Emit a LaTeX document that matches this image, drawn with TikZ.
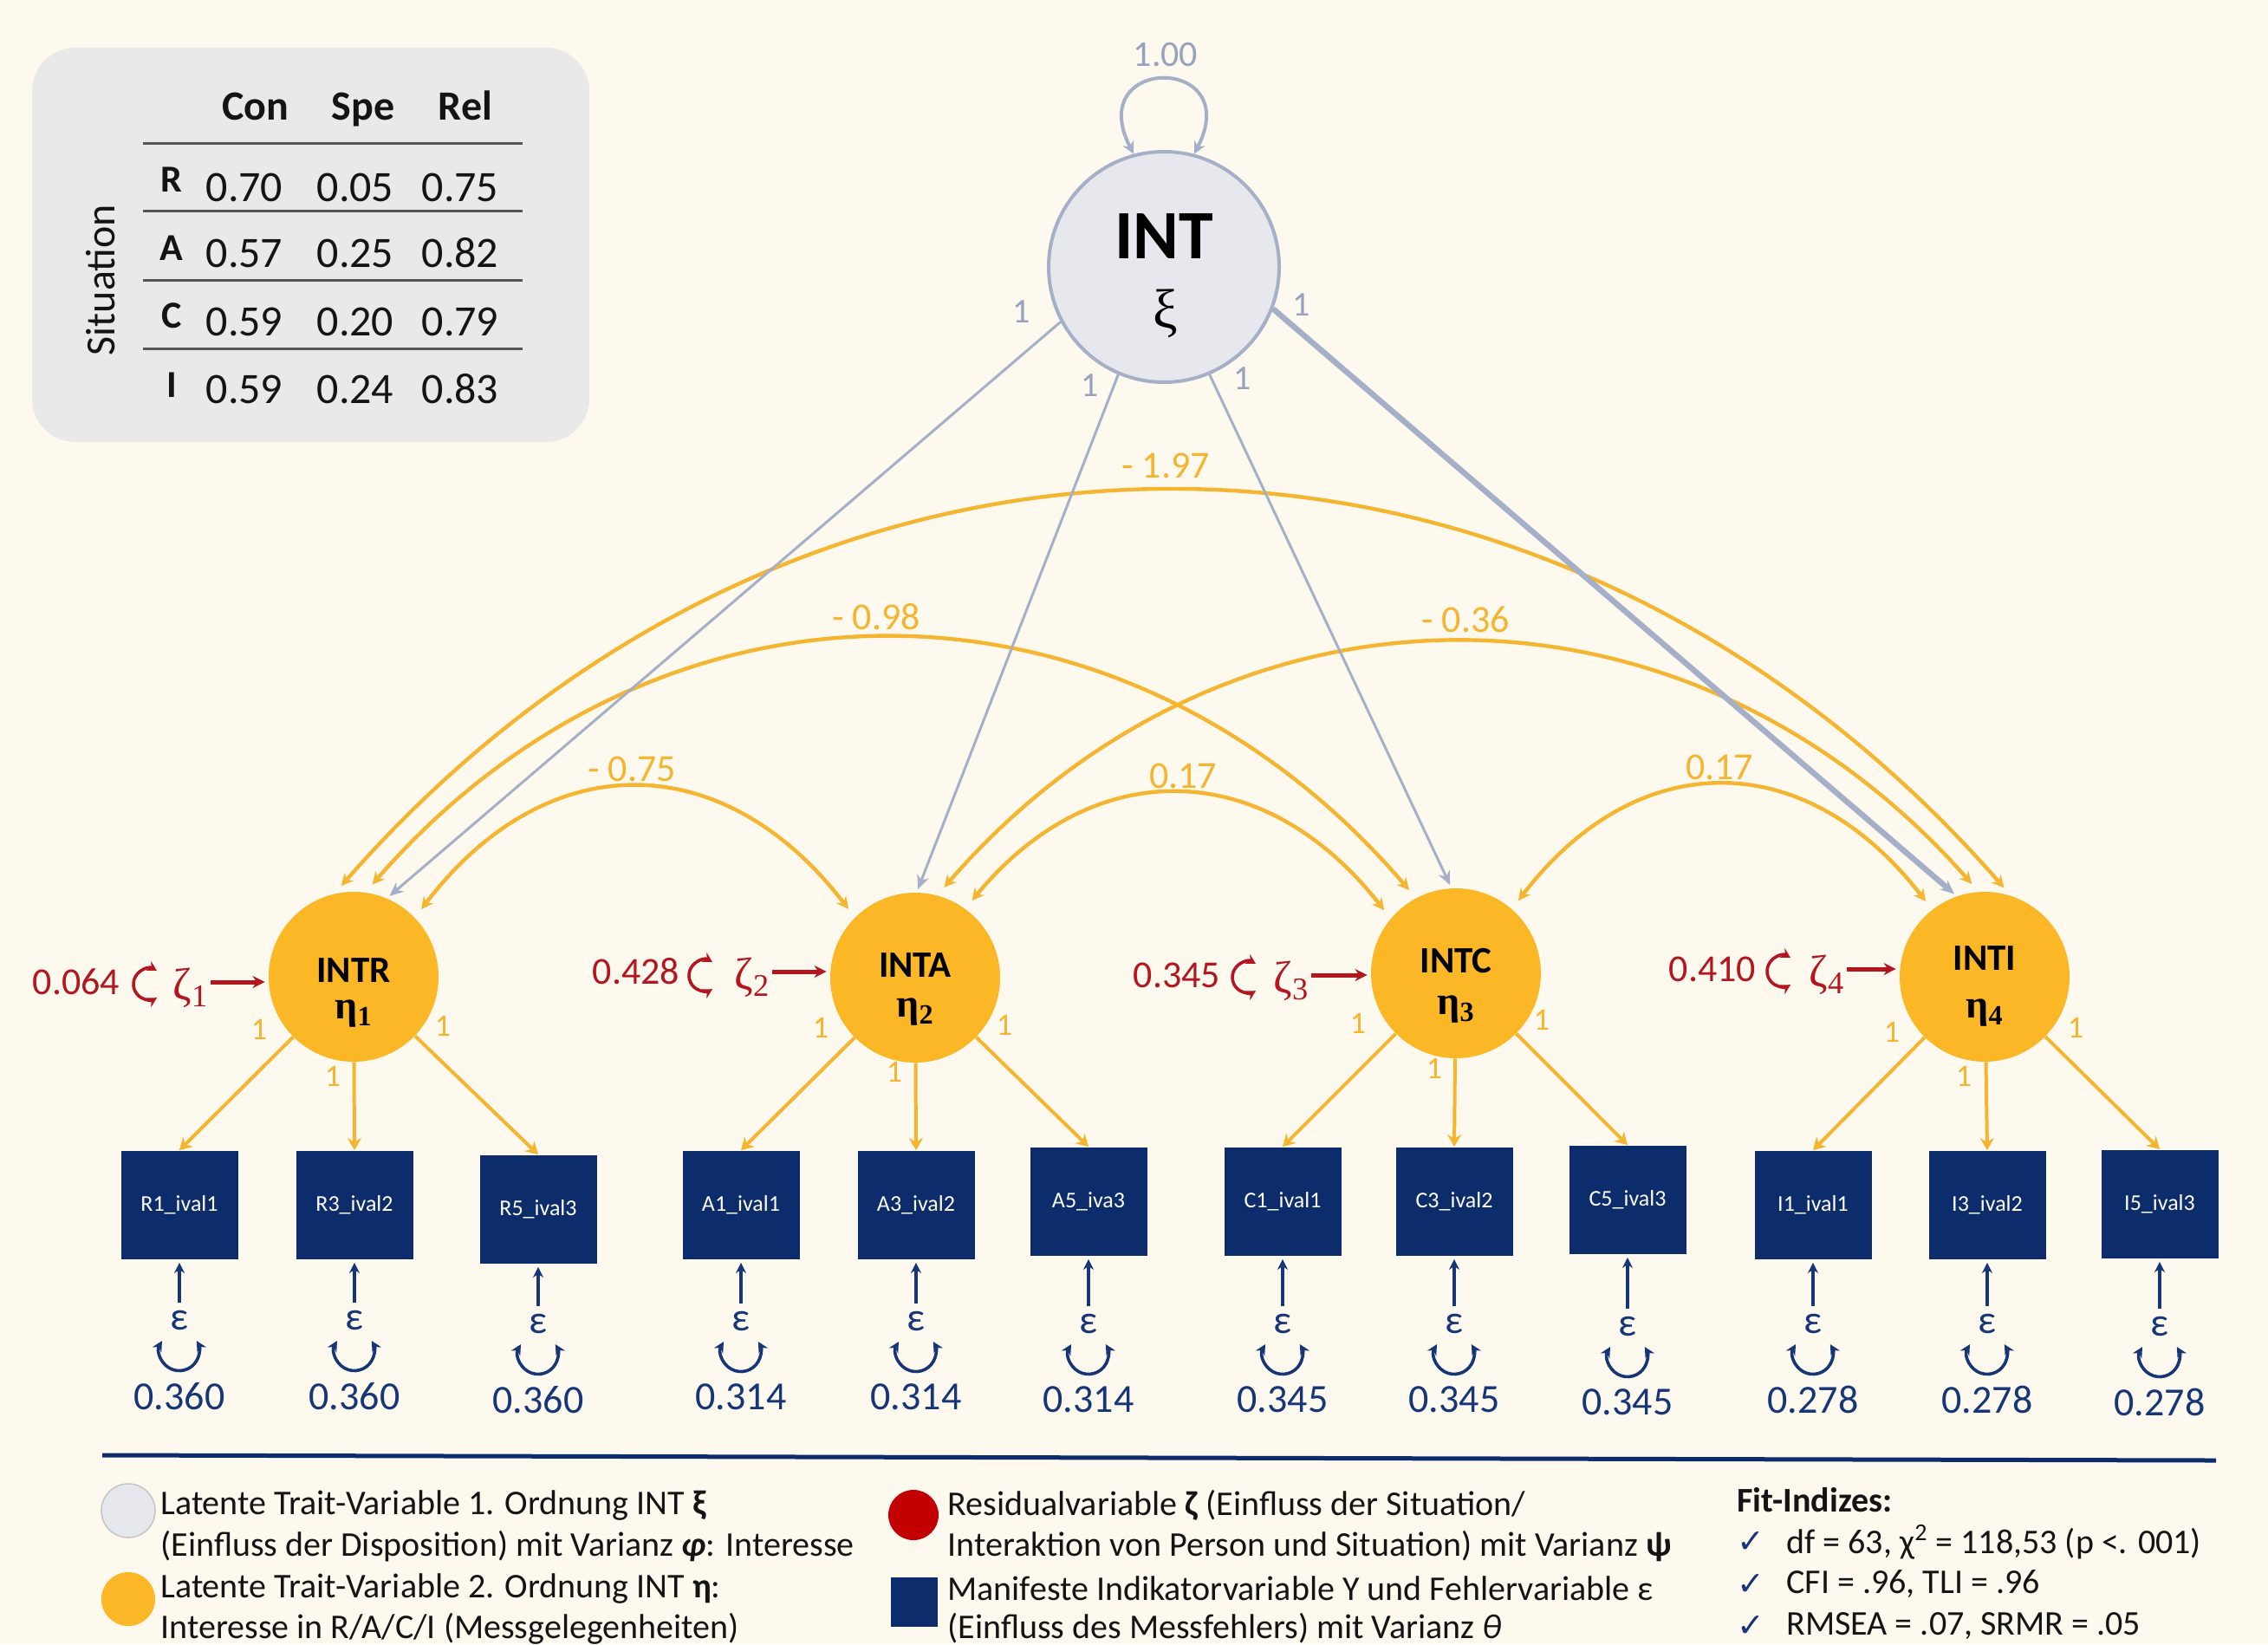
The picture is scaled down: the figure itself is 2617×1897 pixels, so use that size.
\documentclass[tikz,border=0pt]{standalone}
\usepackage{fontspec}
\setmainfont{Carlito}
\newfontfamily\grserif{Liberation Serif}
\newfontfamily\symfont{DejaVu Sans}
\usetikzlibrary{arrows.meta}
\definecolor{bgc}{RGB}{253,249,239}
\definecolor{tabfill}{RGB}{233,233,233}
\definecolor{rulec}{RGB}{85,85,85}
\definecolor{txt}{RGB}{20,20,20}
\definecolor{gblue}{RGB}{165,176,200}
\definecolor{gbluet}{RGB}{150,162,190}
\definecolor{intfill}{RGB}{231,232,237}
\definecolor{orf}{RGB}{251,183,38}
\definecolor{orl}{RGB}{246,181,48}
\definecolor{navy}{RGB}{12,44,107}
\definecolor{navyt}{RGB}{22,54,120}
\definecolor{zred}{RGB}{180,22,32}
\definecolor{legred}{RGB}{195,0,0}
\newcommand\fsz[1]{\fontsize{#1}{#1}\selectfont}
% error term: name, box, x, y of epsilon, value
\newcommand\errt[5]{%
  \node[epsn] (#1) at (#3,-#4) {ε};
  \draw[earr] (#1) -- (#2);
  \draw[eloop] (#1) ++(-20,-24) arc[start angle=150,end angle=390,radius=23];
  \node[valn] (#1v) at (#3,-#4-88) {#5};
}
\begin{document}
\begin{tikzpicture}[x=0.5pt,y=0.5pt,
  hdr/.style={font=\bfseries\fsz{24}, text=txt, anchor=base},
  rlab/.style={font=\bfseries\fsz{22}, text=txt, anchor=base},
  num/.style={font=\fsz{25}, text=txt, anchor=base},
  rulel/.style={draw=rulec, line width=1.5pt},
  intc/.style={circle, draw=gblue, line width=2pt, fill=intfill, minimum size=133pt, inner sep=0pt},
  eta/.style={circle, fill=orf, minimum size=98pt, inner sep=0pt},
  etat/.style={font=\bfseries\fsz{21.5}, text=black, anchor=base, inner sep=1pt},
  etag/.style={font=\grserif\bfseries\fsz{23}, text=black, inner sep=1pt},
  mbox/.style={rectangle, fill=navy, minimum width=67.5pt, minimum height=62.5pt, inner sep=0pt, text=white, font=\fsz{13}},
  gl/.style={draw=gblue, line width=1.5pt, -{Stealth[length=8pt,width=7pt]}, shorten >=2pt},
  gloop/.style={draw=gblue, line width=2pt, {Stealth[length=7pt,width=7pt]}-{Stealth[length=7pt,width=7pt]}},
  gone/.style={font=\fsz{20}, text=gbluet},
  cov/.style={draw=orl, line width=2.2pt, {Stealth[length=7pt,width=7pt]}-{Stealth[length=7pt,width=7pt]}, shorten <=6pt, shorten >=6pt},
  covl/.style={font=\fsz{22}, text=orl},
  load/.style={draw=orl, line width=2pt, -{Stealth[length=7pt,width=8pt]}},
  oone/.style={font=\fsz{18}, text=orl},
  zval/.style={font=\fsz{22}, text=zred},
  zeta/.style={font=\grserif\fsz{26}, text=zred, inner sep=1pt},
  zarr/.style={draw=zred, line width=2.5pt, -{Stealth[length=7pt,width=7pt]}, shorten >=2pt},
  zcurl/.style={draw=zred, line width=1.8pt, {Stealth[length=5.5pt,width=6pt]}-{Stealth[length=5.5pt,width=6pt]}},
  epsn/.style={font=\fsz{23}, text=navyt, inner sep=4pt},
  earr/.style={draw=navyt, line width=1.6pt, -{Stealth[length=6pt,width=6pt]}, shorten >=2pt},
  eloop/.style={draw=navyt, line width=1.8pt, {Stealth[length=6pt,width=6pt]}-{Stealth[length=6pt,width=6pt]}},
  valn/.style={font=\fsz{23}, text=navyt},
  legt/.style={anchor=west, font=\fsz{20}, text=txt, inner sep=0pt},
]
\useasboundingbox (0,0) rectangle (2617,-1897);
\fill[bgc] (0,0) rectangle (2617,-1897);

% ---------- table ----------
\fill[tabfill, rounded corners=25pt] (37,-55) rectangle (680,-510);
\node[font=\fsz{24}, text=txt, rotate=90] (sit) at (116,-323) {Situation};
\node[hdr] (hc) at (295,-138) {Con};
\node[hdr] (hs) at (419,-138) {Spe};
\node[hdr] (hr) at (537,-138) {Rel};
\draw[rulel] (165,-165) -- (603,-165);
\draw[rulel] (165,-243) -- (603,-243);
\draw[rulel] (165,-323) -- (603,-323);
\draw[rulel] (165,-402) -- (603,-402);
\node[rlab] (rR) at (198,-221) {R};
\node[rlab] (rA) at (198,-300) {A};
\node[rlab] (rC) at (198,-378) {C};
\node[rlab] (rI) at (198,-458) {I};
\node[num] (n11) at (282,-232) {0.70};
\node[num] (n12) at (410,-232) {0.05};
\node[num] (n13) at (531,-232) {0.75};
\node[num] (n21) at (282,-308) {0.57};
\node[num] (n22) at (410,-308) {0.25};
\node[num] (n23) at (531,-308) {0.82};
\node[num] (n31) at (282,-387) {0.59};
\node[num] (n32) at (410,-387) {0.20};
\node[num] (n33) at (531,-387) {0.79};
\node[num] (n41) at (282,-465) {0.59};
\node[num] (n42) at (410,-465) {0.24};
\node[num] (n43) at (531,-465) {0.83};

% ---------- INT ----------
\node[intc] (INT) at (1343,-308) {};
\node[font=\bfseries\fsz{40}, text=black, anchor=base] (INTt) at (1343,-298) {INT};
\node[font=\grserif\fsz{32}, text=black] (INTx) at (1345,-362) {ξ};
\draw[gloop] (INT.105) .. controls (1249,-63) and (1437,-63) .. (INT.75);
\node[font=\fsz{21}, text=gbluet] (v100) at (1345,-63) {1.00};

% ---------- eta ----------
\node[eta] (INTR) at (408,-1127) {};
\node[eta] (INTA) at (1056,-1128) {};
\node[eta] (INTC) at (1680,-1123) {};
\node[eta] (INTI) at (2290,-1127) {};
\node[etat] (INTRt) at (408,-1133) {INTR};
\node[etat] (INTAt) at (1056,-1127) {INTA};
\node[etat] (INTCt) at (1680,-1122) {INTC};
\node[etat] (INTIt) at (2290,-1119) {INTI};
\node[etag] (INTRe) at (408,-1170) {η\textsubscript{1}};
\node[etag] (INTAe) at (1056,-1168) {η\textsubscript{2}};
\node[etag] (INTCe) at (1680,-1165) {η\textsubscript{3}};
\node[etag] (INTIe) at (2290,-1169) {η\textsubscript{4}};

% ---------- covariances ----------
\draw[cov] (INTR.103.7) .. controls (927,-413) and (1778,-413) .. (INTI.72.4);
\draw[cov] (INTR.82.4) .. controls (761,-639) and (1294,-639) .. (INTC.118.1);
\draw[cov] (INTA.75.7) .. controls (1417,-646) and (1946,-646) .. (INTI.94.1);
\draw[cov] (INTR.44.3) .. controls (630,-860) and (834,-860) .. (INTA.135.7);
\draw[cov] (INTA.54.8) .. controls (1260,-871) and (1457,-871) .. (INTC.140.2);
\draw[cov] (INTC.49.9) .. controls (1889,-860) and (2083,-860) .. (INTI.128.4);
\node[covl] (c1) at (1345,-537) {- 1.97};
\node[covl] (c2) at (1011,-712) {- 0.98};
\node[covl] (c3) at (1691,-715) {- 0.36};
\node[covl] (c4) at (729,-887) {- 0.75};
\node[covl] (c5) at (1365,-895) {0.17};
\node[covl] (c6) at (1984,-885) {0.17};

% ---------- second-order loadings ----------
\draw[gl] (INT.208) -- (INTR.67);
\draw[gl] (INT.247.7) -- (INTA.89.4);
\draw[gl] (INT.293.5) -- (INTC.93.5);
\draw[gl, line width=3.3pt] (INT.339) -- (INTI.109.7);
\node[gone] (g1) at (1179,-360) {1};
\node[gone] (g2) at (1258,-445) {1};
\node[gone] (g3) at (1434,-437) {1};
\node[gone] (g4) at (1502,-352) {1};

% ---------- indicators ----------
\node[mbox] (R1) at (207,-1390) {R1\_ival1};
\node[mbox] (R3) at (409,-1390) {R3\_ival2};
\node[mbox] (R5) at (621,-1395) {R5\_ival3};
\node[mbox] (A1) at (855,-1390) {A1\_ival1};
\node[mbox] (A3) at (1057,-1390) {A3\_ival2};
\node[mbox] (A5) at (1256,-1386) {A5\_iva3};
\node[mbox] (C1) at (1480,-1386) {C1\_ival1};
\node[mbox] (C3) at (1678,-1386) {C3\_ival2};
\node[mbox] (C5) at (1878,-1384) {C5\_ival3};
\node[mbox] (I1) at (2092,-1390) {I1\_ival1};
\node[mbox] (I3) at (2293,-1390) {I3\_ival2};
\node[mbox] (I5) at (2492,-1389) {I5\_ival3};

\draw[load] (INTR) -- (R1.north);
\draw[load] (INTR) -- (R3.north);
\draw[load] (INTR) -- (R5.north);
\draw[load] (INTA) -- (A1.north);
\draw[load] (INTA) -- (A3.north);
\draw[load] (INTA) -- (A5.north);
\draw[load] (INTC) -- (C1.north);
\draw[load] (INTC) -- (C3.north);
\draw[load] (INTC) -- (C5.north);
\draw[load] (INTI) -- (I1.north);
\draw[load] (INTI) -- (I3.north);
\draw[load] (INTI) -- (I5.north);

\node[oone] (o1) at (299,-1188) {1};
\node[oone] (o2) at (511,-1184) {1};
\node[oone] (o3) at (384,-1242) {1};
\node[oone] (o4) at (947,-1186) {1};
\node[oone] (o5) at (1159,-1183) {1};
\node[oone] (o6) at (1032,-1237) {1};
\node[oone] (o7) at (1567,-1181) {1};
\node[oone] (o8) at (1779,-1177) {1};
\node[oone] (o9) at (1655,-1233) {1};
\node[oone] (o10) at (2183,-1191) {1};
\node[oone] (o11) at (2395,-1186) {1};
\node[oone] (o12) at (2266,-1242) {1};

% ---------- residuals zeta ----------
\node[zval] (z1v) at (88,-1133) {0.064};
\node[zeta] (z1) at (220,-1140) {ζ\textsubscript{1}};
\draw[zcurl] (181,-1120) arc[start angle=60,end angle=300,radius=18];
\draw[zarr] (z1.east |- z1v) -- (z1v -| INTR.west);

\node[zval] (z2v) at (734,-1121) {0.428};
\node[zeta] (z2) at (868,-1128) {ζ\textsubscript{2}};
\draw[zcurl] (822,-1110) arc[start angle=60,end angle=300,radius=18];
\draw[zarr] (z2.east |- z2v) -- (z2v -| INTA.west);

\node[zval] (z3v) at (1358,-1125) {0.345};
\node[zeta] (z3) at (1490,-1132) {ζ\textsubscript{3}};
\draw[zcurl] (1449,-1112) arc[start angle=60,end angle=300,radius=18];
\draw[zarr] (z3.east |- z3v) -- (z3v -| INTC.west);

\node[zval] (z4v) at (1976,-1118) {0.410};
\node[zeta] (z4) at (2108,-1125) {ζ\textsubscript{4}};
\draw[zcurl] (2066,-1105) arc[start angle=60,end angle=300,radius=18];
\draw[zarr] (z4.east |- z4v) -- (z4v -| INTI.west);

% ---------- measurement errors ----------
\errt{eR1}{R1}{207}{1523}{0.360}
\errt{eR3}{R3}{409}{1523}{0.360}
\errt{eR5}{R5}{621}{1527}{0.360}
\errt{eA1}{A1}{855}{1524}{0.314}
\errt{eA3}{A3}{1057}{1524}{0.314}
\errt{eA5}{A5}{1256}{1527}{0.314}
\errt{eC1}{C1}{1480}{1527}{0.345}
\errt{eC3}{C3}{1678}{1527}{0.345}
\errt{eC5}{C5}{1878}{1530}{0.345}
\errt{eI1}{I1}{2092}{1527}{0.278}
\errt{eI3}{I3}{2293}{1527}{0.278}
\errt{eI5}{I5}{2492}{1530}{0.278}

% ---------- legend ----------
\draw[navy, line width=2.5pt] (118,-1679) -- (2557,-1685);
\node[circle, fill=intfill, draw=gray!45, line width=0.8pt, minimum size=31pt, inner sep=0pt] (lg1) at (148,-1743) {};
\node[circle, fill=orf, minimum size=31pt, inner sep=0pt] (lg2) at (148,-1845) {};
\node[circle, fill=legred, minimum size=29pt, inner sep=0pt] (lg3) at (1054,-1748) {};
\node[rectangle, fill=navy, minimum width=27pt, minimum height=28.5pt, inner sep=0pt] (lg4) at (1055,-1848) {};

\node[legt] (l1) at (185,-1737) {Latente Trait-Variable 1. Ordnung INT \textbf{ξ}};
\node[legt] (l2) at (185,-1784) {(Einfluss der Disposition) mit Varianz \textbf{\textit{φ}}: Interesse};
\node[legt] (l3) at (185,-1833) {Latente Trait-Variable 2. Ordnung INT \textbf{η}:};
\node[legt] (l4) at (185,-1879) {Interesse in R/A/C/I (Messgelegenheiten)};
\node[legt] (r1) at (1093,-1737) {Residualvariable \textbf{ζ} (Einfluss der Situation/};
\node[legt] (r2) at (1093,-1784) {Interaktion von Person und Situation) mit Varianz \textbf{ψ}};
\node[legt] (r3) at (1093,-1833) {Manifeste Indikatorvariable Y und Fehlervariable ε};
\node[legt] (r4) at (1093,-1879) {(Einfluss des Messfehlers) mit Varianz \textit{θ}};

\node[legt, font=\bfseries\fsz{20}] (fit) at (2004,-1731) {Fit-Indizes:};
\node[font=\symfont\fsz{19}, text=navyt] (ck1) at (2020,-1779) {✓};
\node[font=\symfont\fsz{19}, text=navyt] (ck2) at (2020,-1828) {✓};
\node[font=\symfont\fsz{19}, text=navyt] (ck3) at (2020,-1876) {✓};
\node[legt] (f1) at (2061,-1779) {df = 63, χ\textsuperscript{2} = 118,53 (p <. 001)};
\node[legt] (f2) at (2061,-1828) {CFI = .96, TLI = .96};
\node[legt] (f3) at (2061,-1876) {RMSEA = .07, SRMR = .05};
\end{tikzpicture}
\end{document}
